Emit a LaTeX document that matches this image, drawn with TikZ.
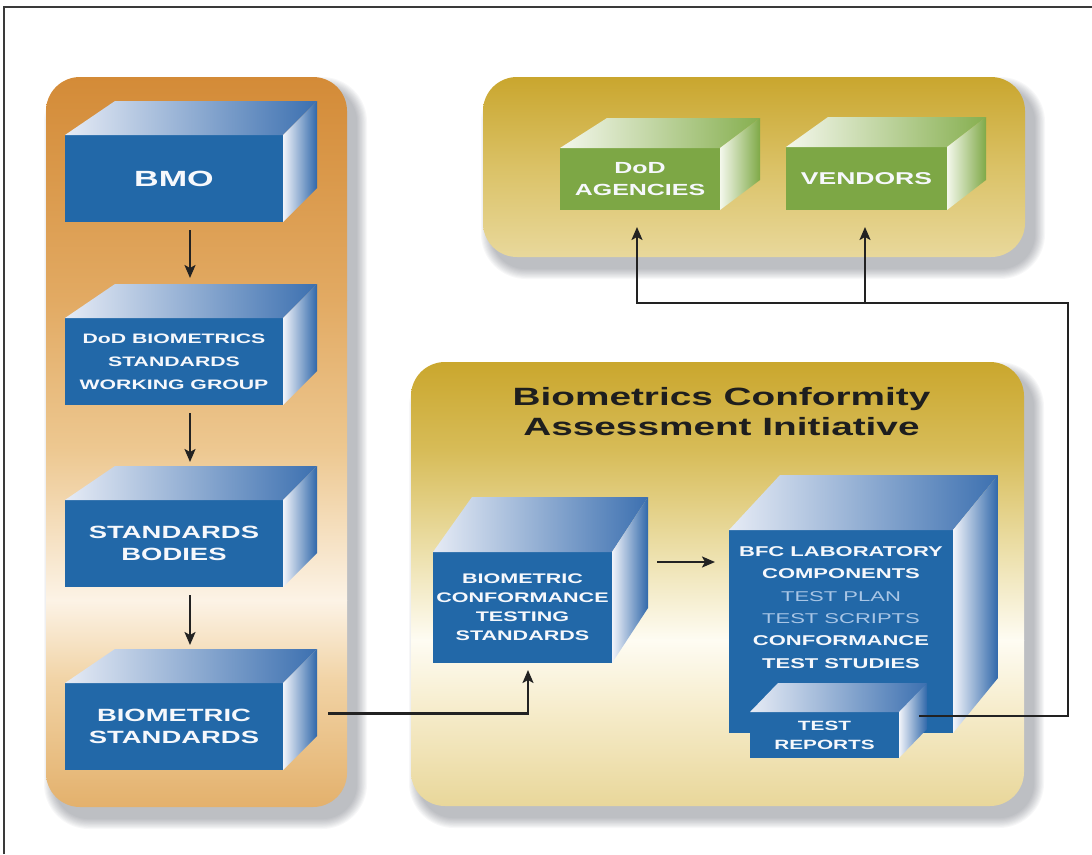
\documentclass[tikz,border=0pt]{standalone}
\usepackage{fontspec}
\usetikzlibrary{arrows.meta,calc}
\newfontfamily\boxfont{Liberation Sans}[FakeStretch=1.55]

% palette
\definecolor{framec}{HTML}{3A3A3A}
\definecolor{shadowc}{HTML}{505660}
\definecolor{linec}{HTML}{222222}
\definecolor{titlec}{HTML}{1E1E1E}
\definecolor{boxtext}{HTML}{F6F8FC}
\definecolor{testblue}{HTML}{A9C6E6}
\definecolor{bluef}{HTML}{2268A8}
\definecolor{btopl}{HTML}{E6EBF5}
\definecolor{btopr}{HTML}{3C70B0}
\definecolor{bsidel}{HTML}{F2F4FA}
\definecolor{bsider}{HTML}{3068AA}
\definecolor{greenf}{HTML}{7DA745}
\definecolor{gtopl}{HTML}{F4F7EC}
\definecolor{gtopr}{HTML}{86AF4F}
\definecolor{gsidel}{HTML}{F4F8EC}
\definecolor{gsider}{HTML}{7FA947}
% left (orange) panel
\definecolor{lp1}{HTML}{D38A36}
\definecolor{lp2}{HTML}{E2AA63}
\definecolor{lp3}{HTML}{EDC891}
\definecolor{lp4}{HTML}{FCF3E6}
\definecolor{lp5}{HTML}{F1D3A5}
\definecolor{lp6}{HTML}{E3B06B}
% upper right (gold) panel
\definecolor{tr1}{HTML}{C8A42A}
\definecolor{tr2}{HTML}{DAC165}
\definecolor{tr3}{HTML}{E9D99D}
% lower right (gold) panel
\definecolor{br1}{HTML}{C9A52A}
\definecolor{br2}{HTML}{D7BC58}
\definecolor{br3}{HTML}{ECDFA9}
\definecolor{br4}{HTML}{FEFCF3}
\definecolor{br5}{HTML}{F6ECCB}
\definecolor{br6}{HTML}{E8D698}

% top and side faces of a box whose front face is node #1
% #2 left depth shift, #3 right depth shift, #4 depth height, #5 colour set
\newcommand\cubefaces[5]{%
  \shade[#5top] (#1.north west) -- (#1.north east) -- ++(#3,-#4)
     -- ($(#1.north west)+(#2,-#4)$) -- cycle;
  \shade[#5side] (#1.north east) -- ++(#3,-#4)
     -- ($(#1.south east)+(#3,-#4)$) -- (#1.south east) -- cycle;
}

% soft shadow behind a rounded panel: x1 y1 x2 y2 radius
\newcommand\panelshadow[5]{%
  \foreach \k in {0,...,9}{%
    \pgfmathsetmacro\shs{11-1.1*\k}%
    \pgfmathsetmacro\shr{#5+\shs}%
    \fill[shadowc,opacity=0.045,rounded corners=\shr pt]
      ($(#1,#2)+(9-\shs,11-\shs)$) rectangle ($(#3,#4)+(9+\shs,11+\shs)$);
  }%
}

\tikzset{
  bluefront/.style={fill=bluef, text=boxtext, inner sep=0pt, outer sep=0pt, align=center},
  bluetop/.style={left color=btopl, right color=btopr},
  blueside/.style={left color=bsidel, right color=bsider},
  greenfront/.style={fill=greenf, text=boxtext, inner sep=0pt, outer sep=0pt, align=center},
  greentop/.style={left color=gtopl, right color=gtopr},
  greenside/.style={left color=gsidel, right color=gsider},
  conn/.style={draw=linec, line width=2.2pt, -{Stealth[length=13pt,width=11pt,inset=3pt]}},
}

\begin{document}
\begin{tikzpicture}[x=1pt,y=-1pt]
\useasboundingbox (0,0) rectangle (1092,854);
\fill[white] (0,0) rectangle (1092,854);

% page frame
\draw[framec, line width=1.5pt] (4,854) -- (4,7) -- (1092,7);

% panel shadows
\panelshadow{46}{77}{347}{807}{34}
\panelshadow{483}{77}{1025}{257}{34}
\panelshadow{411}{362}{1024}{806}{34}

% left panel
\begin{scope}
  \clip[rounded corners=34pt] (46,77) rectangle (347,807);
  \shade[top color=lp1,bottom color=lp2] (40,70) rectangle (350,300.5);
  \shade[top color=lp2,bottom color=lp3] (40,300) rectangle (350,450.5);
  \shade[top color=lp3,bottom color=lp4] (40,450) rectangle (350,600.5);
  \shade[top color=lp4,bottom color=lp5] (40,600) rectangle (350,680.5);
  \shade[top color=lp5,bottom color=lp6] (40,680) rectangle (350,810);
\end{scope}

% upper right panel
\begin{scope}
  \clip[rounded corners=34pt] (483,77) rectangle (1025,257);
  \shade[top color=tr1,bottom color=tr2] (480,70) rectangle (1030,165.5);
  \shade[top color=tr2,bottom color=tr3] (480,165) rectangle (1030,260);
\end{scope}

% lower right panel
\begin{scope}
  \clip[rounded corners=34pt] (411,362) rectangle (1024,806);
  \shade[top color=br1,bottom color=br2] (405,355) rectangle (1030,450.5);
  \shade[top color=br2,bottom color=br3] (405,450) rectangle (1030,550.5);
  \shade[top color=br3,bottom color=br4] (405,550) rectangle (1030,640.5);
  \shade[top color=br4,bottom color=br5] (405,640) rectangle (1030,710.5);
  \shade[top color=br5,bottom color=br6] (405,710) rectangle (1030,810);
\end{scope}

% left column boxes
\node[bluefront, minimum width=218pt, minimum height=87pt,
      font=\boxfont\bfseries\fontsize{22}{26}\selectfont] (bmo) at (174,178.5) {BMO};
\cubefaces{bmo}{50}{34}{34}{blue}

\node[bluefront, minimum width=218pt, minimum height=87pt,
      font=\boxfont\bfseries\fontsize{13.7}{23}\selectfont] (bswg) at (174,361.5)
      {DoD BIOMETRICS\\STANDARDS\\WORKING GROUP};
\cubefaces{bswg}{50}{34}{34}{blue}

\node[bluefront, minimum width=218pt, minimum height=87pt,
      font=\boxfont\bfseries\fontsize{17.7}{21.5}\selectfont] (sb) at (174,543.5)
      {STANDARDS\\BODIES};
\cubefaces{sb}{50}{34}{34}{blue}

\node[bluefront, minimum width=218pt, minimum height=87pt,
      font=\boxfont\bfseries\fontsize{17.7}{22}\selectfont] (bs) at (174,726.5)
      {BIOMETRIC\\STANDARDS};
\cubefaces{bs}{50}{34}{34}{blue}

% user boxes
\node[greenfront, minimum width=160pt, minimum height=62pt,
      font=\boxfont\bfseries\fontsize{16.1}{22}\selectfont] (dod) at (640,179)
      {DoD\\AGENCIES};
\cubefaces{dod}{47}{40}{30}{green}

\node[greenfront, minimum width=161pt, minimum height=63pt,
      font=\boxfont\bfseries\fontsize{17.1}{22}\selectfont] (ven) at (866.5,178.5)
      {VENDORS};
\cubefaces{ven}{42}{39}{30}{green}

% initiative title
\node[font=\boxfont\bfseries\fontsize{25}{30}\selectfont, text=titlec, align=center]
      (title) at (721.5,412) {Biometrics Conformity\\Assessment Initiative};

% initiative boxes
\node[bluefront, minimum width=179pt, minimum height=111pt,
      font=\boxfont\bfseries\fontsize{13.9}{19}\selectfont] (bcts) at (522.5,607.5)
      {BIOMETRIC\\CONFORMANCE\\TESTING\\STANDARDS};
\cubefaces{bcts}{39}{36}{55}{blue}

\node[bluefront, minimum width=224pt, minimum height=203pt] (bfc) at (841,631.5) {};
\cubefaces{bfc}{51}{45}{55}{blue}
\node[font=\boxfont\bfseries\fontsize{14.2}{22.4}\selectfont, text=boxtext, align=center]
      (bfctext) at ($(bfc.center)+(0,-24)$)
      {BFC LABORATORY\\COMPONENTS\\\textcolor{testblue}{\mdseries TEST PLAN}\\
       \textcolor{testblue}{\mdseries TEST SCRIPTS}\\CONFORMANCE\\TEST STUDIES};

\node[bluefront, minimum width=149pt, minimum height=46pt,
      font=\boxfont\bfseries\fontsize{13.4}{19}\selectfont] (tr) at (824.5,735)
      {TEST\\REPORTS};
\cubefaces{tr}{28}{28}{29}{blue}

% connectors
\draw[conn] ($(bmo.south)+(16,8)$) -- ($(bswg.north)+(16,-40)$);
\draw[conn] ($(bswg.south)+(16,8)$) -- ($(sb.north)+(16,-38)$);
\draw[conn] ($(sb.south)+(16,8)$) -- ($(bs.north)+(16,-38)$);

\coordinate (bsout) at ($(bs.east)+(45,-13)$);
\draw[conn] (bsout) -| ($(bcts.south)+(5.5,7)$);

\coordinate (bctsout) at ($(bcts.east)+(45,-45.5)$);
\draw[conn] (bctsout) -- ($(bfc.west |- bctsout)+(-14,0)$);

\coordinate (trout) at ($(tr.east)+(20,-19)$);
\coordinate (bus) at (1068,303);
\draw[conn] (trout) -| (bus) -- ($(dod.south |- bus)+(-3,0)$) -- ($(dod.south)+(-3,17)$);
\draw[conn] ($(ven.south |- bus)+(-1.5,0)$) -- ($(ven.south)+(-1.5,17)$);
\end{tikzpicture}
\end{document}
